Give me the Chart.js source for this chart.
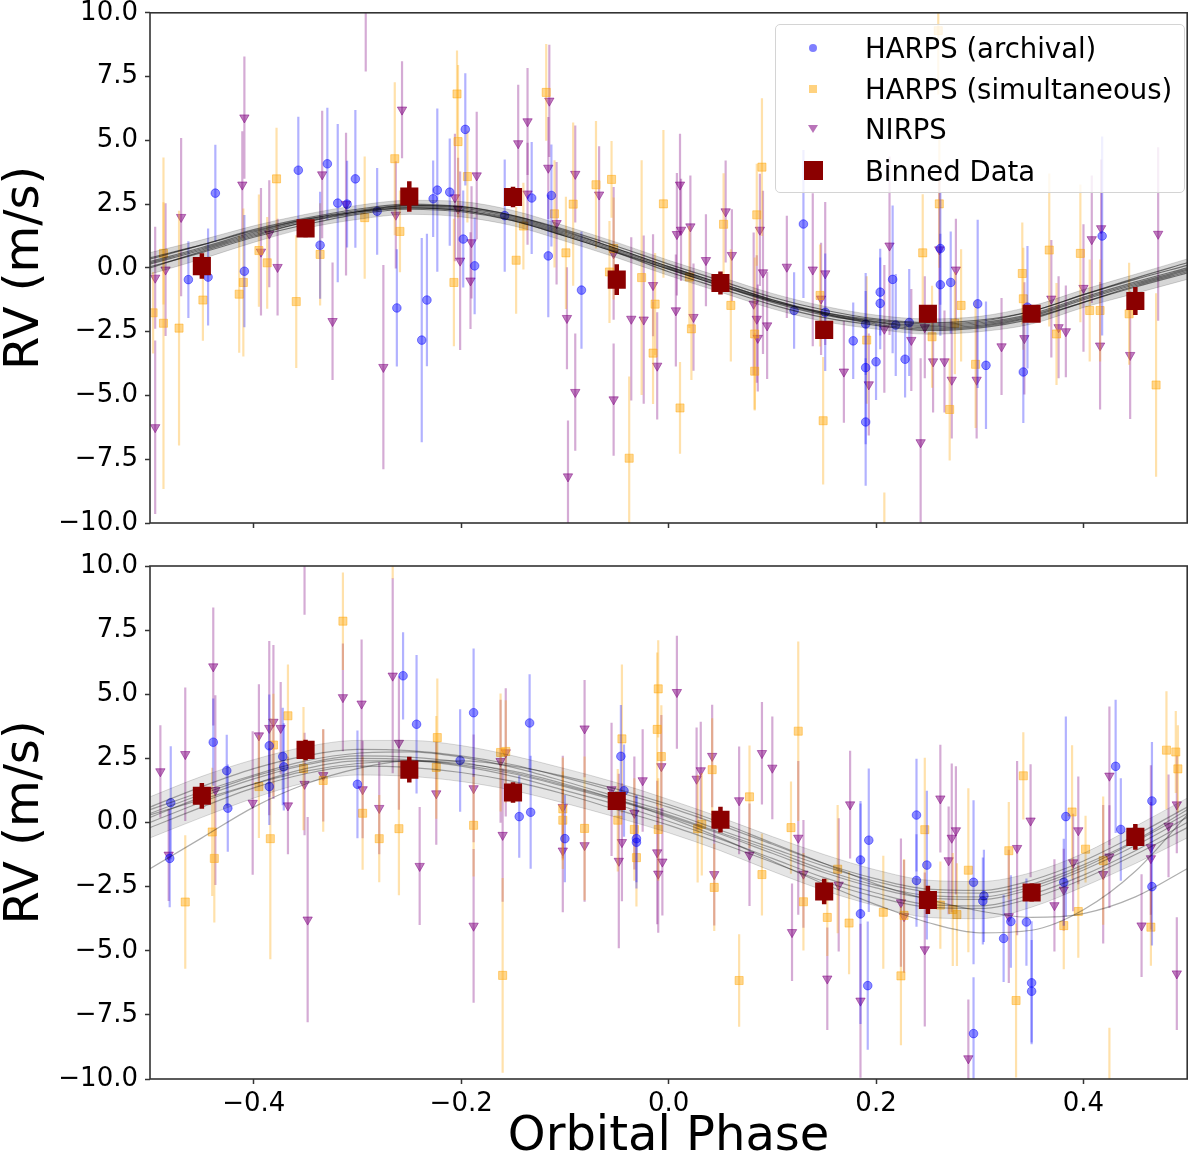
<!DOCTYPE html>
<html>
<head>
<meta charset="utf-8">
<title>RV phase plot</title>
<script src="https://cdn.jsdelivr.net/npm/chart.js@4.4.1/dist/chart.umd.min.js"></script>
<style>
  body { margin: 0; background: #fff; }
  #wrap { position: relative; width: 1200px; height: 1162px; overflow: hidden; }
  #topChart { position: absolute; left: 0; top: 0; }
  #bottomChart { position: absolute; left: 0; top: 545px; }
  .legend {
    position: absolute; left: 775px; top: 24px; width: 410px; height: 169px;
    box-sizing: border-box; border: 1px solid #d4d4d4; border-radius: 5px;
    background: rgba(255, 255, 255, 0.8);
    font-family: 'DejaVu Sans', sans-serif; font-size: 27.5px; color: #000;
  }
  .legend .row { position: absolute; left: 89px; height: 34px; line-height: 34px; white-space: nowrap; }
  .legend .mk { position: absolute; }
  .circ { width: 8px; height: 8px; border-radius: 50%; background: rgba(0,0,255,0.5); }
  .sq { width: 8px; height: 8px; background: rgba(255,165,0,0.5); }
  .tri { width: 0; height: 0; border-left: 5px solid transparent; border-right: 5px solid transparent; border-top: 8px solid rgba(128,0,128,0.55); }
  .big { width: 19px; height: 19px; background: #8b0000; }
</style>
</head>
<body>
<div id="wrap">
  <canvas id="topChart" width="1200" height="545"></canvas>
  <canvas id="bottomChart" width="1200" height="617"></canvas>
  <div class="legend">
    <div class="mk circ" style="left:33px; top:19px"></div>
    <div class="row" style="top:6px">HARPS (archival)</div>
    <div class="mk sq" style="left:33px; top:60px"></div>
    <div class="row" style="top:47px">HARPS (simultaneous)</div>
    <div class="mk tri" style="left:32px; top:100px"></div>
    <div class="row" style="top:87px">NIRPS</div>
    <div class="mk big" style="left:28px; top:136px"></div>
    <div class="row" style="top:129px">Binned Data</div>
  </div>
</div>
<script>
// phase, RV (m/s), error (m/s)
const topArchival = [
  [-0.463,-0.46,1.5],[-0.444,-0.36,1.9],[-0.437,2.93,1.9],[-0.409,-0.13,2.2],[-0.357,3.83,2.1],
  [-0.336,0.89,2.1],[-0.329,4.08,2.2],[-0.319,2.54,3.1],[-0.31,2.5,1.7],[-0.302,3.49,2.7],
  [-0.281,2.22,1.7],[-0.262,-1.57,2.3],[-0.238,-2.83,4.0],[-0.233,-1.26,2.6],[-0.227,2.71,1.5],
  [-0.223,3.05,3.2],[-0.211,2.97,2.1],[-0.198,1.13,1.9],[-0.196,5.43,2.2],[-0.187,0.08,1.9],
  [-0.158,2.05,2.2],[-0.132,2.74,2.2],[-0.116,0.47,2.4],[-0.113,2.84,2.0],[-0.084,-0.87,2.3],
  [0.13,1.72,2.9],[0.121,-1.67,1.5],[0.151,-1.74,2.3],[0.178,-2.86,1.5],[0.19,-3.91,3.0],
  [0.19,-2.2,2.0],[0.19,-6.04,2.5],[0.2,-3.68,1.5],[0.204,-0.95,1.7],[0.204,-1.39,1.8],
  [0.216,-0.45,2.9],[0.219,-2.24,2.0],[0.228,-3.58,1.5],[0.232,-2.14,2.1],[0.262,0.76,2.2],
  [0.262,-0.66,2.0],[0.272,-0.57,2.0],[0.298,-1.41,3.3],[0.306,-3.82,2.5],[0.342,-4.08,2.0],
  [0.346,-1.54,2.4],[0.418,1.25,3.9]
];
const topSimultaneous = [
  [-0.497,-1.76,1.6],[-0.487,0.57,2.0],[-0.487,-2.17,6.5],[-0.472,-2.36,4.6],[-0.449,-1.26,1.6],
  [-0.414,-1.03,2.3],[-0.41,-0.57,2.9],[-0.395,0.68,2.2],[-0.387,0.2,1.8],[-0.378,3.49,2.0],
  [-0.359,-1.32,2.6],[-0.336,0.53,2.0],[-0.293,1.97,2.4],[-0.264,4.28,3.0],[-0.259,1.43,1.6],
  [-0.207,-0.57,2.5],[-0.204,6.82,1.7],[-0.203,4.95,3.0],[-0.194,3.58,1.8],[-0.147,0.3,2.1],
  [-0.14,1.64,1.7],[-0.118,6.88,1.9],[-0.11,2.12,2.1],[-0.099,0.59,2.2],[-0.092,2.5,3.2],
  [-0.07,3.26,2.5],[-0.055,3.47,1.5],[-0.053,0.76,2.0],[-0.057,-0.16,2.0],[-0.038,-7.46,3.2],
  [-0.026,-0.38,4.6],[-0.013,-1.42,2.0],[-0.015,-3.34,2.0],[-0.005,2.51,2.9],[0.011,-5.49,1.8],
  [0.02,-0.36,2.0],[0.022,-2.39,2.0],[0.053,1.71,2.0],[0.06,-1.47,2.2],[0.085,2.08,2.0],
  [0.09,3.95,2.7],[0.083,-2.59,3.0],[0.083,-4.05,1.5],[0.146,-1.08,2.0],[0.149,-5.99,2.5],
  [0.191,-2.83,2.5],[0.208,-11.0,2.2],[0.245,0.59,2.3],[0.254,-2.7,2.0],[0.26,9.3,2.5],
  [0.261,2.51,2.5],[0.271,-5.55,2.0],[0.276,-2.17,2.0],[0.282,-1.47,2.2],[0.296,-3.78,2.5],
  [0.341,-0.22,2.0],[0.342,-1.21,2.0],[0.367,0.7,3.0],[0.374,-2.59,2.0],[0.397,0.57,2.7],
  [0.406,-1.67,2.0],[0.416,-1.67,2.0],[0.444,-1.8,2.0],[0.47,-4.59,3.6]
];
const topNirps = [
  [-0.495,-0.39,2.0],[-0.495,-6.25,3.4],[-0.485,-0.07,2.6],[-0.47,1.99,3.1],[-0.411,3.26,2.1],
  [-0.409,5.89,2.4],[-0.393,0.63,2.5],[-0.385,1.34,2.1],[-0.377,0.03,1.9],[-0.334,3.66,2.5],
  [-0.324,-2.09,2.3],[-0.311,2.5,2.8],[-0.292,10.6,2.9],[-0.275,-3.89,4.0],[-0.263,2.08,2.1],
  [-0.257,6.2,1.9],[-0.206,2.76,2.5],[-0.203,2.32,2.0],[-0.201,0.28,3.5],[-0.191,-0.5,1.9],
  [-0.19,1.0,2.2],[-0.185,3.62,2.5],[-0.145,4.88,2.3],[-0.136,5.74,2.1],[-0.136,2.91,2.0],
  [-0.116,3.92,2.0],[-0.115,6.55,2.2],[-0.108,1.75,2.4],[-0.098,-1.97,2.0],[-0.097,-8.18,2.2],
  [-0.09,3.68,1.9],[-0.09,-4.87,2.3],[-0.067,2.87,1.9],[-0.053,0.57,2.6],[-0.053,-5.16,2.2],
  [-0.036,-2.0,3.2],[-0.024,-2.03,3.3],[-0.015,-0.68,2.0],[-0.011,-3.84,2.1],[0.007,-1.67,2.2],
  [0.008,1.32,2.4],[0.011,3.26,2.0],[0.012,1.49,2.0],[0.021,1.62,2.0],[0.024,-1.93,2.1],
  [0.036,0.3,1.8],[0.055,2.21,2.0],[0.061,0.5,1.8],[0.082,-1.41,2.8],[0.085,-2.0,2.5],
  [0.086,-2.75,2.1],[0.088,1.49,2.2],[0.091,-0.18,3.2],[0.095,-2.26,2.1],[0.114,0.04,2.0],
  [0.139,-0.07,3.0],[0.147,-1.21,2.2],[0.151,-0.22,2.8],[0.169,-4.07,2.0],[0.193,-4.57,2.0],
  [0.208,-2.39,2.5],[0.213,0.87,3.5],[0.234,-2.83,2.0],[0.243,-6.84,3.3],[0.247,-2.33,2.0],
  [0.255,-3.67,2.0],[0.261,0.72,3.0],[0.266,-3.67,2.0],[0.273,-4.39,2.3],[0.277,-0.07,2.0],
  [0.297,-4.39,2.3],[0.321,-3.08,1.9],[0.343,-2.76,2.2],[0.369,-1.21,2.3],[0.376,-2.33,2.0],
  [0.383,-2.49,1.8],[0.4,-0.79,2.5],[0.408,1.12,2.5],[0.416,-3.05,2.5],[0.417,1.55,2.7],
  [0.445,-3.42,2.5],[0.472,1.33,3.4]
];

const bottomArchival = [
  [-0.48,0.77,2.2],[-0.481,-1.4,1.9],[-0.439,3.13,1.7],[-0.426,2.02,1.4],[-0.425,0.56,1.7],
  [-0.385,2.99,2.0],[-0.385,1.4,1.5],[-0.372,2.57,1.9],[-0.371,2.17,1.7],[-0.3,1.49,2.1],
  [-0.256,5.72,1.7],[-0.243,3.83,2.7],[-0.201,2.42,2.0],[-0.188,4.28,2.5],[-0.144,0.23,1.6],
  [-0.134,3.88,1.9],[-0.133,0.4,2.2],[-0.1,-0.63,1.7],[-0.046,2.58,2.0],[-0.043,1.24,1.8],
  [-0.031,-0.63,1.7],[-0.031,-0.77,1.8],[0.185,-1.46,2.3],[0.185,-3.56,4.3],[0.192,-6.36,2.5],
  [0.193,-0.69,2.8],[0.239,0.29,2.2],[0.239,-2.26,1.8],[0.249,-1.66,2.9],[0.294,-2.33,3.2],
  [0.294,-8.23,2.2],[0.303,-3.06,1.7],[0.304,-2.86,1.8],[0.323,-4.52,1.7],[0.33,-3.86,1.8],
  [0.345,-3.88,1.7],[0.35,-6.25,2.4],[0.35,-6.58,2.0],[0.381,-2.33,1.7],[0.383,0.23,3.9],
  [0.431,2.19,2.6],[0.436,-0.27,2.0],[0.466,0.84,2.3],[0.466,-2.5,2.3]
];
const bottomSimultaneous = [
  [-0.466,-3.1,2.6],[-0.44,-0.37,2.5],[-0.438,-1.4,2.5],[-0.395,1.4,2.0],[-0.384,-0.63,4.7],
  [-0.381,3.02,2.0],[-0.367,4.16,2.0],[-0.352,2.1,2.4],[-0.333,1.64,2.0],[-0.314,7.85,1.9],
  [-0.295,0.36,2.2],[-0.279,-0.63,1.7],[-0.26,-0.24,2.6],[-0.266,11.5,2.0],[-0.223,3.31,2.3],
  [-0.224,2.15,2.0],[-0.188,-0.11,2.0],[-0.162,2.73,2.3],[-0.157,2.77,2.0],[-0.16,-5.96,3.8],
  [-0.102,0.53,2.0],[-0.102,0.09,1.9],[-0.081,-0.23,2.8],[-0.049,0.09,2.0],[-0.045,3.26,2.9],
  [-0.033,-0.27,2.0],[-0.031,-1.37,1.9],[-0.011,3.63,3.0],[-0.01,5.21,1.9],[-0.01,-0.27,2.0],
  [-0.007,2.57,2.0],[0.028,-0.24,2.1],[0.032,-0.07,2.0],[0.042,2.06,2.0],[0.044,-2.53,1.7],
  [0.068,-6.16,1.8],[0.078,1.0,2.0],[0.09,-2.03,1.6],[0.118,-0.2,1.8],[0.125,3.56,3.5],
  [0.13,-3.09,1.9],[0.153,-3.7,1.5],[0.163,-1.82,2.5],[0.174,-3.92,2.0],[0.207,-3.5,2.2],
  [0.224,-5.98,2.7],[0.227,-3.62,2.2],[0.247,-0.28,2.8],[0.262,-3.22,1.7],[0.274,-3.39,2.2],
  [0.278,-3.59,2.0],[0.289,-1.86,3.2],[0.328,-1.1,1.9],[0.335,-6.94,3.0],[0.342,1.82,1.7],
  [0.381,-4.02,1.7],[0.389,0.41,2.6],[0.395,-3.47,1.8],[0.402,-1.04,1.3],[0.419,-1.49,2.5],
  [0.425,-10.5,2.5],[0.465,-4.08,1.5],[0.48,2.82,2.3],[0.489,2.75,1.6],[0.491,2.09,1.7]
];
const bottomNirps = [
  [-0.49,1.99,1.8],[-0.482,-1.26,1.8],[-0.466,2.66,2.6],[-0.439,6.08,2.3],[-0.437,1.26,3.7],
  [-0.401,0.76,2.8],[-0.395,3.39,2.0],[-0.385,3.68,3.4],[-0.381,3.92,3.0],[-0.374,3.68,1.8],
  [-0.367,0.66,1.9],[-0.351,11.3,3.2],[-0.351,1.5,2.0],[-0.348,-3.79,4.0],[-0.333,1.84,1.8],
  [-0.314,4.88,2.1],[-0.296,4.63,2.5],[-0.295,1.29,1.9],[-0.279,0.56,1.8],[-0.266,5.72,3.8],
  [-0.26,3.1,2.6],[-0.24,-1.7,2.3],[-0.224,1.13,2.0],[-0.188,1.33,2.1],[-0.188,-4.03,3.0],
  [-0.162,2.39,2.4],[-0.157,2.73,2.5],[-0.16,-0.49,2.6],[-0.102,0.6,2.0],[-0.102,-1.1,2.4],
  [-0.081,3.66,1.9],[-0.081,-0.89,2.2],[-0.055,1.29,2.6],[-0.048,-1.5,3.4],[-0.045,-0.77,2.3],
  [-0.033,0.37,2.2],[-0.025,1.64,2.0],[-0.011,-1.17,2.8],[-0.01,-2.0,2.3],[-0.006,-1.53,2.1],
  [-0.007,2.19,2.0],[0.008,5.08,2.2],[0.027,1.7,2.0],[0.031,2.03,1.9],[0.042,2.59,2.0],
  [0.044,-2.02,2.0],[0.068,0.86,2.1],[0.078,-1.26,2.0],[0.09,2.7,2.0],[0.1,2.13,2.0],
  [0.119,-4.28,1.9],[0.125,-0.6,3.0],[0.13,-2.0,2.1],[0.153,-6.09,2.0],[0.164,-2.43,2.6],
  [0.175,0.7,2.1],[0.185,-6.95,3.0],[0.224,-3.12,2.5],[0.227,-3.66,2.2],[0.247,-4.95,3.0],
  [0.262,0.93,2.1],[0.27,-1.48,2.1],[0.273,-0.6,2.9],[0.277,-0.31,2.5],[0.289,-9.2,2.3],
  [0.328,-3.66,2.6],[0.336,-1.0,3.4],[0.349,0.07,2.2],[0.372,-3.23,1.8],[0.381,-2.62,1.6],
  [0.39,-1.56,1.9],[0.395,-0.31,2.1],[0.419,-2.02,2.7],[0.425,1.82,2.7],[0.425,-1.33,2.0],
  [0.456,-4.02,2.0],[0.465,-0.97,3.2],[0.465,-1.4,2.2],[0.482,-0.13,2.0],[0.49,0.7,1.9],
  [0.49,-5.89,2.2]
];

// binned data
const binPhase = [-0.45, -0.35, -0.25, -0.15, -0.05, 0.05, 0.15, 0.25, 0.35, 0.45];
const topBinned = [0.07, 1.55, 2.8, 2.78, -0.46, -0.59, -2.43, -1.8, -1.8, -1.3];
const topBinnedErr = [0.5, 0.35, 0.6, 0.4, 0.6, 0.45, 0.3, 0.35, 0.3, 0.55];
const bottomBinned = [1.04, 2.83, 2.06, 1.17, 0.84, 0.11, -2.69, -3.02, -2.73, -0.56];
const bottomBinnedErr = [0.5, 0.4, 0.5, 0.4, 0.35, 0.5, 0.5, 0.55, 0.35, 0.5];

// model draws, sampled every 0.05 in phase
const modelPhase = [-0.5,-0.45,-0.4,-0.35,-0.3,-0.25,-0.2,-0.15,-0.1,-0.05,0,0.05,0.1,0.15,0.2,0.25,0.3,0.35,0.4,0.45,0.5];
const topModelHigh = [0.6,1.1,1.65,2.1,2.45,2.65,2.6,2.25,1.65,1.0,0.3,-0.35,-1.0,-1.5,-1.85,-2.0,-1.9,-1.5,-0.85,-0.25,0.35];
const topModelLow = [-0.25,0.35,1.0,1.55,1.9,2.1,2.0,1.65,1.05,0.4,-0.3,-0.95,-1.6,-2.1,-2.4,-2.6,-2.5,-2.2,-1.55,-1.0,-0.45];
const topModels = [
  [0.2,0.75,1.35,1.85,2.2,2.4,2.3,1.95,1.35,0.7,0.0,-0.65,-1.3,-1.8,-2.12,-2.3,-2.2,-1.85,-1.2,-0.6,-0.05],
  [0.35,0.9,1.5,1.95,2.3,2.5,2.4,2.05,1.5,0.85,0.15,-0.5,-1.15,-1.65,-2.0,-2.15,-2.05,-1.7,-1.05,-0.45,0.1],
  [0.05,0.6,1.2,1.7,2.1,2.3,2.2,1.85,1.25,0.6,-0.15,-0.8,-1.45,-1.95,-2.25,-2.45,-2.35,-2.0,-1.35,-0.75,-0.2],
  [0.0,0.65,1.25,1.8,2.2,2.45,2.4,2.05,1.45,0.75,0.05,-0.6,-1.25,-1.8,-2.2,-2.4,-2.3,-1.95,-1.35,-0.7,-0.15],
  [0.4,0.9,1.45,1.9,2.2,2.35,2.25,1.85,1.25,0.6,-0.05,-0.7,-1.3,-1.75,-2.05,-2.2,-2.1,-1.7,-1.05,-0.4,0.2],
  [0.15,0.7,1.3,1.8,2.15,2.35,2.25,1.9,1.3,0.65,-0.05,-0.7,-1.35,-1.85,-2.15,-2.35,-2.25,-1.9,-1.25,-0.65,-0.1],
  [0.25,0.8,1.4,1.9,2.25,2.45,2.35,2.0,1.4,0.75,0.05,-0.6,-1.25,-1.75,-2.1,-2.25,-2.15,-1.8,-1.15,-0.55,0.0]
];
const bottomModelHigh = [1.0,1.8,2.45,2.95,3.2,3.2,3.0,2.6,2.1,1.55,0.9,0.2,-0.55,-1.25,-1.85,-2.25,-2.3,-1.95,-1.2,-0.15,0.95];
const bottomModelLow = [-0.6,0.2,0.95,1.55,1.85,1.8,1.6,1.25,0.75,0.2,-0.4,-1.1,-1.9,-2.65,-3.25,-3.7,-3.75,-3.3,-2.5,-1.6,-0.6];
const bottomModels = [
  [0.2,1.0,1.7,2.25,2.5,2.45,2.25,1.9,1.4,0.85,0.25,-0.45,-1.2,-1.95,-2.55,-2.95,-3.0,-2.6,-1.85,-0.9,0.2],
  [-1.8,-0.6,0.6,1.5,2.1,2.4,2.4,2.2,1.8,1.3,0.7,0.0,-0.8,-1.6,-2.4,-3.0,-3.45,-3.7,-3.55,-2.9,-1.8],
  [0.6,1.4,2.1,2.6,2.85,2.8,2.6,2.25,1.75,1.2,0.6,-0.1,-0.85,-1.6,-2.2,-2.6,-2.65,-2.25,-1.5,-0.5,0.6],
  [-0.2,0.6,1.35,1.9,2.2,2.15,1.95,1.6,1.1,0.5,-0.1,-0.8,-1.55,-2.3,-2.9,-3.3,-3.35,-2.95,-2.2,-1.25,-0.2],
  [0.3,0.9,1.5,2.0,2.3,2.4,2.3,2.0,1.5,0.9,0.2,-0.6,-1.5,-2.4,-3.2,-3.9,-4.3,-4.2,-3.4,-1.9,0.3],
  [0.5,1.2,1.85,2.4,2.7,2.75,2.55,2.15,1.6,1.0,0.4,-0.3,-1.0,-1.7,-2.3,-2.7,-2.75,-2.4,-1.65,-0.7,0.5],
  [0.0,0.8,1.5,2.1,2.4,2.4,2.2,1.8,1.25,0.7,0.05,-0.65,-1.4,-2.15,-2.75,-3.2,-3.25,-2.8,-2.05,-1.1,0.0],
  [0.35,1.1,1.8,2.3,2.6,2.55,2.35,1.95,1.45,0.9,0.3,-0.4,-1.1,-1.85,-2.45,-2.85,-2.9,-2.5,-1.75,-0.75,0.35]
];

const phaseTicks = [-0.4, -0.2, 0.0, 0.2, 0.4];
const FONT = "'DejaVu Sans', sans-serif";

function fmt(v, d) {
  if (Math.abs(v) < 1e-9) return (0).toFixed(d);
  return (v < 0 ? '\u2212' : '') + Math.abs(v).toFixed(d);
}

// vertical error bars drawn right under each dataset's markers
const errorBars = {
  id: 'errorBars',
  beforeDatasetDraw(chart, args) {
    const ds = chart.data.datasets[args.index];
    if (!ds.errColor) return;
    const { ctx, chartArea: a, scales: { x, y } } = chart;
    ctx.save();
    ctx.beginPath();
    ctx.rect(a.left, a.top, a.right - a.left, a.bottom - a.top);
    ctx.clip();
    ctx.strokeStyle = ds.errColor;
    ctx.lineWidth = ds.errWidth;
    ds.data.forEach(p => {
      const px = x.getPixelForValue(p.x);
      ctx.beginPath();
      ctx.moveTo(px, y.getPixelForValue(p.y - p.err));
      ctx.lineTo(px, y.getPixelForValue(p.y + p.err));
      ctx.stroke();
    });
    ctx.restore();
  },
  afterDraw(chart) {
    const { ctx, chartArea: a } = chart;
    ctx.save();
    ctx.strokeStyle = '#333';
    ctx.lineWidth = 1.6;
    ctx.strokeRect(a.left, a.top, a.right - a.left, a.bottom - a.top);
    ctx.restore();
  }
};

function pointSet(label, rows, style, radius, fill, errColor) {
  return {
    type: 'scatter', label: label, order: 3,
    data: rows.map(r => ({ x: r[0], y: r[1], err: r[2] })),
    pointStyle: style, pointRadius: radius, rotation: style === 'triangle' ? 180 : 0,
    backgroundColor: fill, borderColor: fill, borderWidth: 1,
    errColor: errColor, errWidth: 2.2
  };
}

function modelSet(values, color, width, fill, fillColor) {
  return {
    type: 'line', order: 2,
    data: modelPhase.map((p, i) => ({ x: p, y: values[i] })),
    borderColor: color, borderWidth: width, pointRadius: 0,
    cubicInterpolationMode: 'monotone', fill: fill || false,
    backgroundColor: fill ? fillColor : 'transparent'
  };
}

function makePanel(id, d) {
  const datasets = [
    pointSet('HARPS (archival)', d.archival, 'circle', 4.3, 'rgba(0,0,255,0.45)', 'rgba(0,0,255,0.3)'),
    pointSet('HARPS (simultaneous)', d.simultaneous, 'rect', 5.7, 'rgba(255,165,0,0.45)', 'rgba(255,165,0,0.33)'),
    pointSet('NIRPS', d.nirps, 'triangle', 5.4, 'rgba(128,0,128,0.5)', 'rgba(128,0,128,0.33)'),
    modelSet(d.high, 'rgba(0,0,0,0.15)', 1, '+1', d.fillColor),
    modelSet(d.low, 'rgba(0,0,0,0.15)', 1)
  ];
  d.models.forEach(m => datasets.push(modelSet(m, d.lineColor, 1.2)));
  datasets.push({
    type: 'scatter', label: 'Binned Data', order: 1,
    data: binPhase.map((p, i) => ({ x: p, y: d.binned[i], err: d.binnedErr[i] })),
    pointStyle: 'rect', pointRadius: 12.8, backgroundColor: '#8b0000', borderWidth: 0,
    errColor: '#8b0000', errWidth: 4.5
  });

  return new Chart(document.getElementById(id), {
    type: 'scatter',
    data: { datasets: datasets },
    plugins: [errorBars],
    options: {
      responsive: false, animation: false, devicePixelRatio: 1, events: [],
      layout: { padding: { top: d.padTop, right: 1, left: 0, bottom: 0 } },
      plugins: { legend: { display: false }, tooltip: { enabled: false } },
      scales: {
        x: {
          type: 'linear', min: -0.5, max: 0.5,
          border: { display: false },
          grid: { drawOnChartArea: false, drawTicks: true, tickLength: 5, tickWidth: 1.5, tickColor: '#333' },
          afterBuildTicks: s => { s.ticks = phaseTicks.map(v => ({ value: v })); },
          ticks: { display: d.showX, padding: 5, color: '#000', font: { family: FONT, size: 26 },
                   callback: v => fmt(v, 1), maxRotation: 0 },
          title: { display: d.showX, text: 'Orbital Phase', color: '#000',
                   font: { family: FONT, size: 48, lineHeight: 1 }, padding: { top: 0, bottom: 0 } },
          afterFit: s => { s.height = d.xHeight; s.paddingLeft = 0; s.paddingRight = 0; }
        },
        y: {
          min: -10, max: 10,
          border: { display: false },
          grid: { drawOnChartArea: false, drawTicks: true, tickLength: 5, tickWidth: 1.5, tickColor: '#333' },
          ticks: { stepSize: 2.5, padding: 7, color: '#000', font: { family: FONT, size: 26 },
                   callback: v => fmt(v, 1) },
          title: { display: true, text: 'RV (m/s)', color: '#000',
                   font: { family: FONT, size: 48, lineHeight: 1 }, padding: { top: 2, bottom: 0 } },
          afterFit: s => { s.width = 150; s.paddingTop = 0; s.paddingBottom = 0; }
        }
      }
    }
  });
}

makePanel('topChart', {
  archival: topArchival, simultaneous: topSimultaneous, nirps: topNirps,
  binned: topBinned, binnedErr: topBinnedErr,
  high: topModelHigh, low: topModelLow, models: topModels,
  lineColor: 'rgba(0,0,0,0.5)', fillColor: 'rgba(0,0,0,0.16)',
  padTop: 10, xHeight: 22, showX: false
});
makePanel('bottomChart', {
  archival: bottomArchival, simultaneous: bottomSimultaneous, nirps: bottomNirps,
  binned: bottomBinned, binnedErr: bottomBinnedErr,
  high: bottomModelHigh, low: bottomModelLow, models: bottomModels,
  lineColor: 'rgba(0,0,0,0.32)', fillColor: 'rgba(0,0,0,0.1)',
  padTop: 21, xHeight: 83, showX: true
});
</script>
</body>
</html>
